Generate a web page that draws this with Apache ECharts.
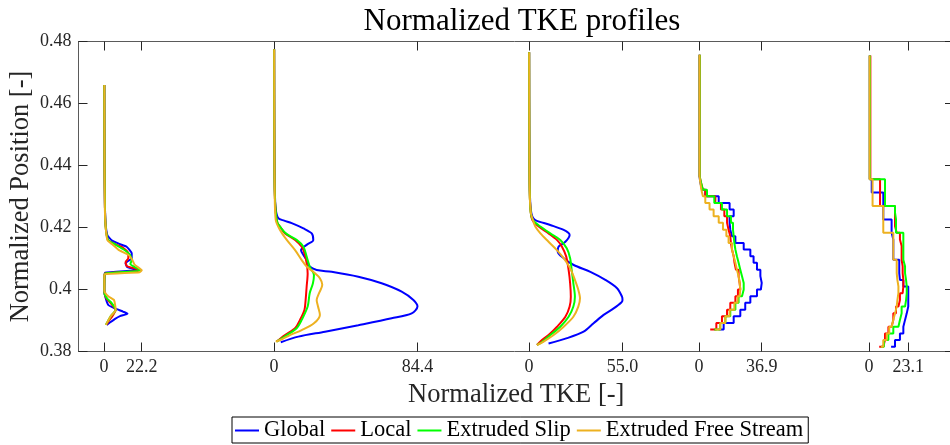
<!DOCTYPE html>
<html>
<head>
<meta charset="utf-8">
<script src="https://cdn.jsdelivr.net/npm/echarts@6/dist/echarts.min.js"></script>
<style>
  html, body { margin: 0; padding: 0; background: #ffffff; }
  #chart { width: 950px; height: 445px; }
</style>
</head>
<body>
<div id="chart"></div>
<script>
// Turbulence model names and line colours
const modelNames = ['Global', 'Local', 'Extruded Slip', 'Extruded Free Stream'];
const modelColors = ['#0000ff', '#ff0000', '#00ff00', '#edb120'];

// Each measuring station is drawn at its own horizontal offset; the peak TKE
// of each station is also the value printed under its right-hand tick.
const stationOffsets = [0, 100, 250, 350, 450];
const stationMaxima = [22.2, 84.4, 55.0, 36.9, 23.1];

// Station 1 profiles: [TKE, position]
const s1Global = [[0.2,0.466],[0.3,0.44],[0.5,0.428],[1,0.421],[2,0.4175],[4.5,0.4159],[9,0.4147],[13.3,0.4138],[16.3,0.4117],[16.3,0.4101],[12.7,0.4085],[13.7,0.4072],[20,0.4063],[0.6,0.4054],[0.3,0.404],[0.2,0.4],[0.5,0.3982],[2.5,0.395],[6.5,0.3939],[11.4,0.3928],[13.8,0.3922],[9.4,0.3914],[6.5,0.3905],[1.6,0.3886]];
const s1Local = [[0.2,0.466],[0.3,0.44],[0.6,0.425],[1.2,0.419],[2.5,0.4159],[7,0.4145],[10.4,0.4138],[14.3,0.4117],[14.3,0.4101],[12.7,0.4088],[13.5,0.4075],[19.6,0.4066],[20.5,0.406],[0.5,0.4052],[0.3,0.404],[0.2,0.4],[0.4,0.3985],[1.5,0.397],[4.1,0.3955],[6.9,0.3934],[5,0.3915],[3,0.39],[1.4,0.3886]];
const s1Slip = [[0.2,0.466],[0.3,0.44],[0.6,0.425],[1.2,0.419],[2.5,0.4159],[6,0.4147],[11.4,0.413],[15.3,0.4112],[16.3,0.4095],[15.5,0.4082],[19.6,0.4068],[21.6,0.4061],[0.5,0.4051],[0.3,0.404],[0.2,0.4],[0.4,0.3985],[2,0.397],[4.1,0.3959],[6.9,0.3934],[4.1,0.3915],[2.5,0.39],[1.1,0.3886]];
const s1FreeStream = [[0.2,0.466],[0.3,0.44],[0.5,0.426],[1,0.42],[2,0.4159],[5,0.4145],[8.5,0.4128],[14.3,0.4112],[16.6,0.4096],[18,0.408],[22.2,0.4062],[21,0.4056],[0.4,0.4049],[0.2,0.404],[0.2,0.4],[0.4,0.3992],[2.5,0.3978],[5.9,0.3966],[6.9,0.3934],[4.1,0.3915],[2.5,0.39],[1.1,0.3886]];

// Station 2 profiles
const s2Global = [[0.1,0.4775],[0.2,0.45],[0.5,0.432],[1,0.426],[2.5,0.423],[6,0.4222],[10.4,0.4214],[17.3,0.4197],[22.2,0.4181],[23.1,0.416],[19.2,0.4144],[15.9,0.4127],[17.3,0.4111],[19.2,0.4095],[21,0.4074],[25.1,0.4063],[33.9,0.4057],[49.6,0.4041],[63.3,0.402],[75.1,0.3993],[82,0.3966],[84.4,0.3945],[81,0.3923],[69.2,0.3907],[49.6,0.3885],[30,0.3864],[14.3,0.3848],[4,0.383]];
const s2Local = [[0.1,0.4775],[0.2,0.45],[0.4,0.432],[1,0.425],[2,0.4215],[3.5,0.4203],[6.5,0.4181],[12.4,0.416],[16.3,0.4138],[17.9,0.4117],[19.2,0.4085],[19.8,0.4052],[19.2,0.4009],[18.6,0.3966],[17.9,0.3934],[15.3,0.3902],[12.4,0.3875],[6.5,0.3853],[1.5,0.3832]];
const s2Slip = [[0.1,0.4775],[0.2,0.45],[0.4,0.432],[1,0.425],[2,0.4215],[3.5,0.4203],[7,0.4181],[13.3,0.416],[17.3,0.4138],[19.2,0.4106],[21,0.4074],[23.5,0.4047],[22.9,0.402],[21,0.3988],[19.8,0.3945],[16.3,0.3902],[13.3,0.3875],[7.5,0.3853],[1.5,0.3832]];
const s2FreeStream = [[0.1,0.4775],[0.2,0.45],[0.4,0.432],[1,0.4225],[3.5,0.4192],[7.5,0.416],[12.4,0.4127],[16.3,0.4095],[19.2,0.4074],[23.1,0.4057],[27,0.4036],[28.4,0.4015],[26.5,0.3988],[25.1,0.3966],[25.9,0.3945],[27,0.3918],[23.5,0.3891],[16.3,0.3869],[9.4,0.3853],[4,0.3838],[1,0.3832]];

// Station 3 profiles
const s3Global = [[0.1,0.4765],[0.2,0.45],[0.5,0.432],[1,0.426],[2,0.4235],[3.7,0.4224],[12.5,0.4208],[20.4,0.4192],[23.9,0.4176],[21.4,0.4154],[17.4,0.4138],[16.9,0.4122],[20.4,0.4101],[26.3,0.4079],[36.1,0.4057],[44.9,0.4031],[51.8,0.4004],[54.7,0.3977],[55.0,0.3966],[54.3,0.3958],[49.8,0.3939],[43.9,0.3918],[38,0.3891],[32.1,0.3864],[22.4,0.3843],[11.5,0.3826]];
const s3Local = [[0.1,0.4765],[0.2,0.45],[0.4,0.432],[1,0.425],[2,0.4224],[5.7,0.4203],[11.5,0.4181],[16.4,0.416],[19.4,0.4138],[21.9,0.4106],[23.3,0.4063],[24.2,0.402],[24.6,0.3977],[23.9,0.3945],[21.4,0.3912],[16.5,0.388],[11.5,0.3853],[7.6,0.3837],[4.7,0.3821]];
const s3Slip = [[0.1,0.4765],[0.2,0.45],[0.4,0.432],[1,0.425],[2.3,0.4224],[6.7,0.4203],[12.5,0.4181],[18.4,0.416],[22.2,0.4133],[24.2,0.4101],[25.1,0.4063],[26.1,0.402],[27,0.3977],[26.1,0.3945],[23.3,0.3912],[18.4,0.388],[12.5,0.3853],[8,0.3832],[4.7,0.3821]];
const s3FreeStream = [[0.1,0.4765],[0.2,0.45],[0.4,0.432],[1,0.425],[2,0.4229],[3.7,0.4203],[6.7,0.4181],[11.5,0.4154],[16.4,0.4127],[20.4,0.4101],[24.3,0.4068],[27,0.4031],[29,0.3999],[30,0.3972],[29,0.3945],[26.1,0.3912],[20.4,0.388],[14.5,0.3853],[8.6,0.3832],[4.7,0.3821]];

// Stations 4 and 5 are cell-averaged: one TKE value per cell between levels
const s4Start = 0.4757;
const s4Levels = [0.4365,0.4344,0.4322,0.4301,0.4279,0.4258,0.4236,0.4215,0.4193,0.4172,0.4150,0.4129,0.4107,0.4086,0.4064,0.4043,0.4021,0.4000,0.3978,0.3957,0.3935,0.3914,0.3892,0.3871];
const s4Top = [0.3, 0.4, 0.4, 0.3];
const s4End = [11.5, 6.6, 9, 9.5];
const s4Global = [0.8,1.8,3.7,11.6,18.0,20.4,18.0,18.4,19.4,21.4,26.3,30.2,32.1,34.1,36.1,36.9,36.4,34.1,30.2,27.2,24.3,20.4,14.5];
const s4Local = [1.2,2.3,3.7,9.6,12.9,14.9,16.5,17.4,18.4,18.8,19.4,20.4,20.9,21.7,23.3,23.9,24.3,22.9,21.4,18.4,16.5,13.5,10.2];
const s4Slip = [1.2,2.3,4.7,9.0,13.5,16.5,18.8,20.0,20.4,20.8,21.4,22.3,23.3,24.3,25.3,26.3,26.3,25.3,23.3,21.4,18.4,15.5,12.5];
const s4FreeStream = [0.8,1.4,2.3,3.7,6.2,8.6,11.6,14.1,16.1,17.4,19.4,20.4,21.4,22.3,23.3,23.9,24.3,23.9,22.7,20.8,18.0,15.5,12.5];

const s5Start = 0.4755;
const s5Levels = [0.4356,0.4334,0.4313,0.4291,0.4269,0.4248,0.4226,0.4204,0.4183,0.4161,0.4140,0.4118,0.4096,0.4075,0.4053,0.4031,0.4010,0.3988,0.3966,0.3945,0.3923,0.3902,0.3880,0.3858,0.3837,0.3815];
const s5Top = [0.4, 0.8, 0.5, 0.3];
const s5End = [13, 6, 7, 7];
const s5Global = [1.6,1.6,8.4,8.4,8.4,8.4,13.3,13.3,14.3,14.3,14.3,14.3,17.8,17.8,18.2,20.2,23.1,23.1,23.1,22.2,21.2,20.2,20.2,18.2,15.3];
const s5Local = [6.5,6.5,6.5,6.5,15.3,15.3,15.3,16.3,18.2,19.2,19.2,19.2,19.8,19.8,20.2,20.2,19.8,18.2,17.3,15.9,14.3,13.3,11.4,9.4,8.4];
const s5Slip = [9.4,9.4,9.4,9.4,15.3,15.9,15.9,15.9,20.2,20.2,20.2,20.2,21.2,21.2,21.8,22.2,22.2,21.8,21.2,19.2,18.2,17.3,14.3,11.4,8.8];
const s5FreeStream = [2.1,2.1,2.1,2.1,8.4,8.4,8.4,8.4,14.3,14.3,14.3,14.3,16.3,16.3,16.7,17.3,17.3,16.7,16.3,15.3,14.3,13.3,11.9,10.4,8.4];

// Axis ticks: the zero of every station plus its peak value
const xTickValues = [];
const xTickLabels = [];
stationOffsets.forEach((off, i) => {
  xTickValues.push(off, off + stationMaxima[i]);
  xTickLabels.push('0', stationMaxima[i].toFixed(1));
});
const yTickValues = ['0.38', '0.4', '0.42', '0.44', '0.46', '0.48'];

// Shift a profile to its station
function shifted(profile, offset) {
  return profile.map(p => [p[0] + offset, p[1]]);
}
// Build the stair outline of a cell-averaged profile
function stairs(offset, yStart, levels, topValue, cells, endValue) {
  const pts = [[offset + topValue, yStart]];
  cells.forEach((v, i) => pts.push([offset + v, levels[i]]));
  pts.push([offset + endValue, levels[levels.length - 1]]);
  return pts;
}

const smoothStations = [
  [s1Global, s1Local, s1Slip, s1FreeStream],
  [s2Global, s2Local, s2Slip, s2FreeStream],
  [s3Global, s3Local, s3Slip, s3FreeStream]
];
const stairStations = [
  { start: s4Start, levels: s4Levels, top: s4Top, end: s4End, cells: [s4Global, s4Local, s4Slip, s4FreeStream] },
  { start: s5Start, levels: s5Levels, top: s5Top, end: s5End, cells: [s5Global, s5Local, s5Slip, s5FreeStream] }
];

const series = [];
function lineSeries(m, data, extra) {
  return Object.assign({
    name: modelNames[m],
    type: 'line',
    data: data,
    symbol: 'none',
    xAxisIndex: 0,
    yAxisIndex: 0,
    lineStyle: { color: modelColors[m], width: 2 },
    itemStyle: { color: modelColors[m] },
    z: 2 + m,
    silent: true
  }, extra);
}
smoothStations.forEach((models, s) => {
  models.forEach((prof, m) => {
    series.push(lineSeries(m, shifted(prof, stationOffsets[s]), { smooth: s === 0 ? 0.15 : 0.3 }));
  });
});
stairStations.forEach((st, k) => {
  const off = stationOffsets[3 + k];
  st.cells.forEach((cells, m) => {
    series.push(lineSeries(m, stairs(off, st.start, st.levels, st.top[m], cells, st.end[m]), { step: 'start' }));
  });
});

const serif = '"Liberation Serif", "DejaVu Serif", serif';
const ink = '#262626';
const frame = '#5a5a5a';

const chart = echarts.init(document.getElementById('chart'), null, { renderer: 'canvas' });
chart.setOption({
  animation: false,
  backgroundColor: '#ffffff',
  title: {
    text: 'Normalized TKE profiles',
    left: 517, top: 1, textAlign: 'center',
    textStyle: { fontFamily: serif, fontSize: 31, fontWeight: 'normal', color: '#000' }
  },
  legend: {
    data: modelNames,
    left: 232, top: 417,
    orient: 'horizontal',
    icon: 'rect',
    itemWidth: 24, itemHeight: 2, itemGap: 6,
    padding: [2, 5, 1, 3],
    borderColor: '#000', borderWidth: 1,
    backgroundColor: '#fff',
    textStyle: { fontFamily: serif, fontSize: 22.5, color: '#000' }
  },
  grid: { left: 78.5, top: 41.5, width: 875.5, height: 310, containLabel: false, outerBoundsMode: 'none' },
  xAxis: [
    {
      type: 'value', position: 'bottom', min: -15, max: 500,
      name: 'Normalized TKE [-]', nameLocation: 'middle', nameGap: 27,
      nameTextStyle: { fontFamily: serif, fontSize: 26.5, color: ink },
      axisLine: { show: true, onZero: false, lineStyle: { color: frame, width: 1 } },
      axisTick: { show: true, inside: true, length: 9, customValues: xTickValues, lineStyle: { color: ink } },
      axisLabel: {
        show: true, margin: 7, customValues: xTickValues,
        fontFamily: serif, fontSize: 18, color: ink,
        formatter: v => { const i = xTickValues.findIndex(t => Math.abs(t - v) < 1e-6); return i >= 0 ? xTickLabels[i] : ''; }
      },
      splitLine: { show: false }
    },
    {
      type: 'value', position: 'top', min: -15, max: 500,
      axisLine: { show: true, onZero: false, lineStyle: { color: frame, width: 1 } },
      axisTick: { show: true, inside: true, length: 9, customValues: xTickValues, lineStyle: { color: ink } },
      axisLabel: { show: false },
      splitLine: { show: false }
    }
  ],
  yAxis: [
    {
      type: 'value', position: 'left', min: 0.38, max: 0.48, interval: 0.02,
      name: 'Normalized Position [-]', nameLocation: 'middle', nameGap: 44, nameMoveOverlap: false,
      nameTextStyle: { fontFamily: serif, fontSize: 26.5, color: ink },
      axisLine: { show: true, onZero: false, lineStyle: { color: frame, width: 1 } },
      axisTick: { show: true, inside: true, length: 9, lineStyle: { color: ink } },
      axisLabel: {
        margin: 7, fontFamily: serif, fontSize: 18, color: ink,
        formatter: v => yTickValues.find(t => Math.abs(parseFloat(t) - v) < 1e-6) || ''
      },
      splitLine: { show: false }
    },
    {
      type: 'value', position: 'right', min: 0.38, max: 0.48, interval: 0.02,
      axisLine: { show: true, onZero: false, lineStyle: { color: frame, width: 1 } },
      axisTick: { show: true, inside: true, length: 9, lineStyle: { color: ink } },
      axisLabel: { show: false },
      splitLine: { show: false }
    }
  ],
  series: series
});
</script>
</body>
</html>
